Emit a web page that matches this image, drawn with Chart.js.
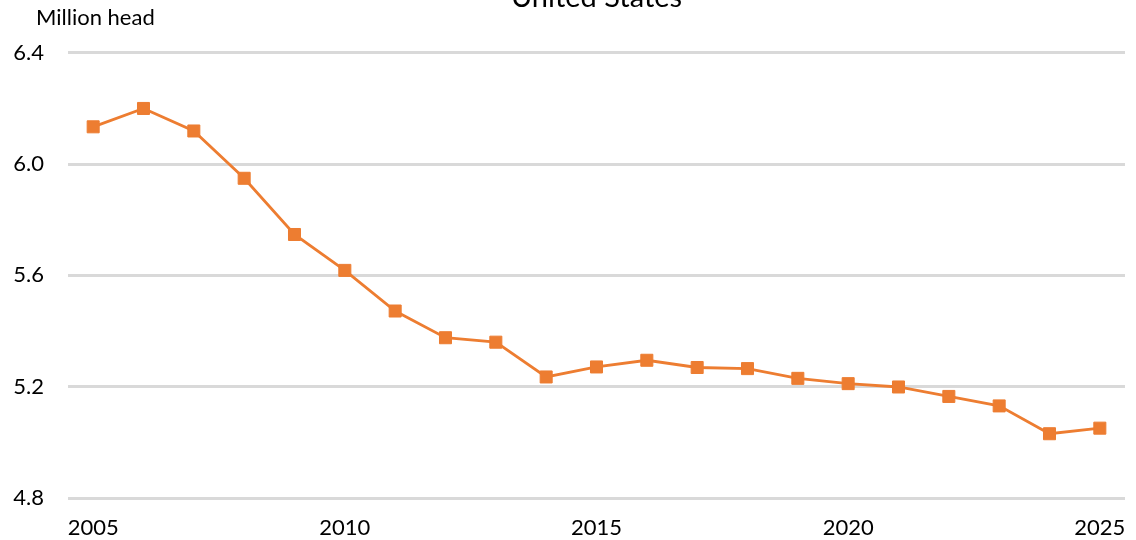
<!DOCTYPE html>
<html>
<head>
<meta charset="utf-8">
<script src="https://cdn.jsdelivr.net/npm/chart.js@4"></script>
<style>
  html, body { margin: 0; padding: 0; background: #fff; }
  #wrap { width: 1136px; height: 540px; position: relative; }
</style>
</head>
<body>
<div id="wrap"><canvas id="c"></canvas></div>
<script>
const chartTitle = "United States";
const unitLabel = "Million head";
const years = ["2005","2006","2007","2008","2009","2010","2011","2012","2013","2014","2015",
               "2016","2017","2018","2019","2020","2021","2022","2023","2024","2025"];
const inventory = [6.134, 6.200, 6.119, 5.949, 5.747, 5.618, 5.472, 5.376, 5.360, 5.235, 5.271,
                   5.295, 5.269, 5.265, 5.230, 5.211, 5.199, 5.165, 5.131, 5.031, 5.051];
const yTicks = [4.8, 5.2, 5.6, 6.0, 6.4];
const xLabelEvery = 5;

const FONT = "Lato, 'Open Sans', sans-serif";

const unitLabelPlugin = {
  id: 'unitLabel',
  afterDraw(chart) {
    const ctx = chart.ctx;
    ctx.save();
    ctx.font = "22px " + FONT;
    ctx.fillStyle = "#000";
    ctx.textAlign = "left";
    ctx.textBaseline = "alphabetic";
    ctx.fillText(unitLabel, 36, 25);
    ctx.restore();
  }
};

new Chart(document.getElementById('c'), {
  type: 'line',
  data: {
    labels: years,
    datasets: [{
      data: inventory,
      borderColor: '#ED7D31',
      backgroundColor: '#ED7D31',
      borderWidth: 2.8,
      pointStyle: 'rect',
      pointRadius: 8.5,
      pointBorderWidth: 1,
      pointBackgroundColor: '#ED7D31',
      pointBorderColor: '#ED7D31',
      tension: 0,
      fill: false
    }]
  },
  options: {
    responsive: true,
    maintainAspectRatio: false,
    animation: false,
    events: [],
    layout: { padding: { left: 0, right: 11, top: 0, bottom: 0 } },
    plugins: {
      legend: { display: false },
      tooltip: { enabled: false },
      title: {
        display: true,
        fullSize: false,
        text: chartTitle,
        color: '#000',
        font: { family: FONT, size: 29, weight: 'normal', lineHeight: 1.2 },
        padding: { top: -20, bottom: 38 }
      }
    },
    scales: {
      x: {
        type: 'category',
        offset: true,
        grid: { display: false, drawTicks: false },
        border: { display: false },
        afterFit(scale) {
          scale.height = 42;
          scale.paddingLeft = 0;
          scale.paddingRight = 0;
        },
        ticks: {
          autoSkip: false,
          maxRotation: 0,
          minRotation: 0,
          padding: 17,
          color: '#000',
          font: { family: FONT, size: 22 },
          callback: function(value, index) {
            const lab = years[index];
            return (parseInt(lab, 10) % xLabelEvery === 0) ? lab : '';
          }
        }
      },
      y: {
        min: yTicks[0],
        max: yTicks[yTicks.length - 1],
        afterBuildTicks(scale) { scale.ticks = yTicks.map(v => ({ value: v })); },
        afterFit(scale) { scale.width = 68; },
        grid: { color: '#d9d9d9', lineWidth: 3, drawTicks: false },
        border: { display: false },
        ticks: {
          padding: 24,
          color: '#000',
          font: { family: FONT, size: 22 },
          callback: v => Number(v).toFixed(1)
        }
      }
    }
  },
  plugins: [unitLabelPlugin]
});
</script>
</body>
</html>
